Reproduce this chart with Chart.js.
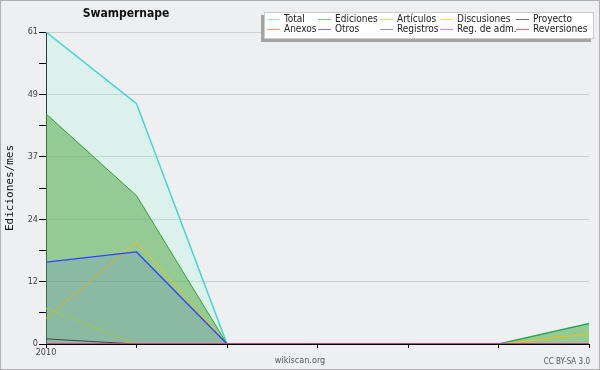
<!DOCTYPE html>
<html><head><meta charset="utf-8">
<script src="https://cdn.jsdelivr.net/npm/chart.js@4/dist/chart.umd.min.js"></script>
<style>html,body{margin:0;padding:0;background:#eeeff0}#wrap{width:600px;height:370px;position:relative}</style>
</head><body><div id="wrap"><canvas id="c" width="600" height="370"></canvas></div>
<script>
// ---- data ----
const months = ['2010-01','2010-02','2010-03','2010-04','2010-05','2010-06','2010-07'];
const xTickLabels = ['2010','','','','','',''];
const seriesNames = ['Total','Ediciones','Artículos','Discusiones','Proyecto','Anexos','Otros','Registros','Reg. de adm.','Reversiones'];
const total       = [61,47,0,0,0,0,4];
const ediciones   = [45,29,0,0,0,0,4];
const articulos   = [7,0,0,0,0,0,0];
const discusiones = [5,20,0,0,0,0,2];
const proyecto    = [1,0,0,0,0,0,0];
const anexos      = [0,0,0,0,0,0,0];
const otros       = [0,0,0,0,0,0,0];
const registros   = [16,18,0,0,0,0,0];
const regAdm      = [0,0,0,0,0,0,0];
const reversiones = [0,0,0,0,0,0,0];
const yMax = 61;
const yTickCount = 10;

// ---- styles ----
const seriesValues = [total,ediciones,articulos,discusiones,proyecto,anexos,otros,registros,regAdm,reversiones];
const lineColors = ['#3ad8d2','#30a030','#a8e02a','#f2c200','#404040','#ff7f3f','#8040e0','#3040ff','#e040ff','#ff3030'];
const legendColors = ['#a8e6e6','#7cc87c','#c8ee70','#ffd860','#707070','#ff9a66','#9a66e8','#8090ff','#e680f0','#ff6060'];
const fills = [ 'rgba(166,247,220,0.25)', 'rgba(76,165,61,0.5)', false, false, false, false, false, 'rgba(64,64,255,0.12)', false, false ];
const widths = [1.5,1,1,1,1,1,1,1.3,1,1];
const FONT = '"DejaVu Sans Condensed","DejaVu Sans",sans-serif';

const datasets = seriesNames.map((name,i)=>({
  label:name,
  data:seriesValues[i],
  borderColor:lineColors[i],
  backgroundColor:fills[i]||'transparent',
  fill:fills[i]?'origin':false,
  borderWidth:widths[i],
  pointRadius:0,
  tension:0,
  order:10-i
}));

const decor = {
  id:'decor',
  beforeDraw(chart){
    const ctx=chart.ctx; ctx.save(); ctx.fillStyle='#eeeff0'; ctx.fillRect(0,0,600,370); ctx.restore();
  },
  afterDraw(chart){
    const ctx=chart.ctx; ctx.save();
    // title
    ctx.fillStyle='#111'; ctx.font='bold 12px '+FONT; ctx.textAlign='center'; ctx.textBaseline='middle';
    ctx.fillText('Swampernape',126,14);
    // y title
    ctx.save(); ctx.translate(10,188); ctx.rotate(-Math.PI/2);
    ctx.font='11px "DejaVu Sans Mono",monospace'; ctx.fillStyle='#111'; ctx.fillText('Ediciones/mes',0,0); ctx.restore();
    // footer
    ctx.fillStyle='#555'; ctx.font='9px '+FONT; ctx.textAlign='center';
    ctx.fillText('wikiscan.org',300,361);
    ctx.font='8px '+FONT; ctx.textAlign='right'; ctx.fillText('CC BY-SA 3.0',590,362);
    // legend
    ctx.fillStyle='#a4a4a4'; ctx.fillRect(261,15,330,27);
    ctx.fillStyle='#ffffff'; ctx.fillRect(264,12,330,27);
    ctx.strokeStyle='#cccccc'; ctx.lineWidth=1; ctx.strokeRect(264.5,12.5,329,26);
    const colX=[284,335,397,457,533], rowY=[19,29];
    ctx.font='10px '+FONT; ctx.textAlign='left'; ctx.textBaseline='middle';
    chart.data.datasets.forEach((d,i)=>{
      const c=i%5, r=Math.floor(i/5);
      const x=colX[c], y=rowY[r];
      ctx.strokeStyle=legendColors[i]; ctx.lineWidth=1;
      ctx.beginPath(); ctx.moveTo(x-17,y+0.5); ctx.lineTo(x-4,y+0.5); ctx.stroke();
      ctx.fillStyle='#222'; ctx.fillText(d.label,x,y);
    });
    // frame
    ctx.strokeStyle='#b0b0b0'; ctx.lineWidth=1; ctx.strokeRect(0.5,0.5,599,369);
    ctx.restore();
  }
};

new Chart(document.getElementById('c'),{
  type:'line',
  data:{labels:months,datasets},
  plugins:[decor],
  options:{
    responsive:false, animation:false, devicePixelRatio:1,
    layout:{padding:{left:0,top:32,right:11,bottom:0}},
    plugins:{legend:{display:false},title:{display:false},tooltip:{enabled:false}},
    scales:{
      x:{
        z:1,
        offset:false,
        afterFit(s){s.height=26;},
        grid:{display:true,drawOnChartArea:false,tickLength:4,tickColor:'#000'},
        border:{display:true,color:'#000',width:1},
        ticks:{autoSkip:false,maxRotation:0,padding:-1,color:'#444',font:{family:FONT,size:9},
          callback:(v,i)=>xTickLabels[i]}
      },
      y:{
        min:0,max:yMax,
        afterFit(s){s.width=46;},
        afterBuildTicks(s){ s.ticks=Array.from({length:yTickCount+1},(_,k)=>({value:yMax*k/yTickCount})); },
        grid:{color:(c)=>c.index%2===0?'#cfd0d2':'rgba(0,0,0,0)',tickColor:'#000',tickLength:7,lineWidth:1},
        border:{display:true,color:'#000',width:1},
        ticks:{padding:1,color:'#444',font:{family:FONT,size:9},
          callback:(v,i)=>i%2===0?String(Math.round(v)):''}
      }
    }
  }
});
</script></body></html>
